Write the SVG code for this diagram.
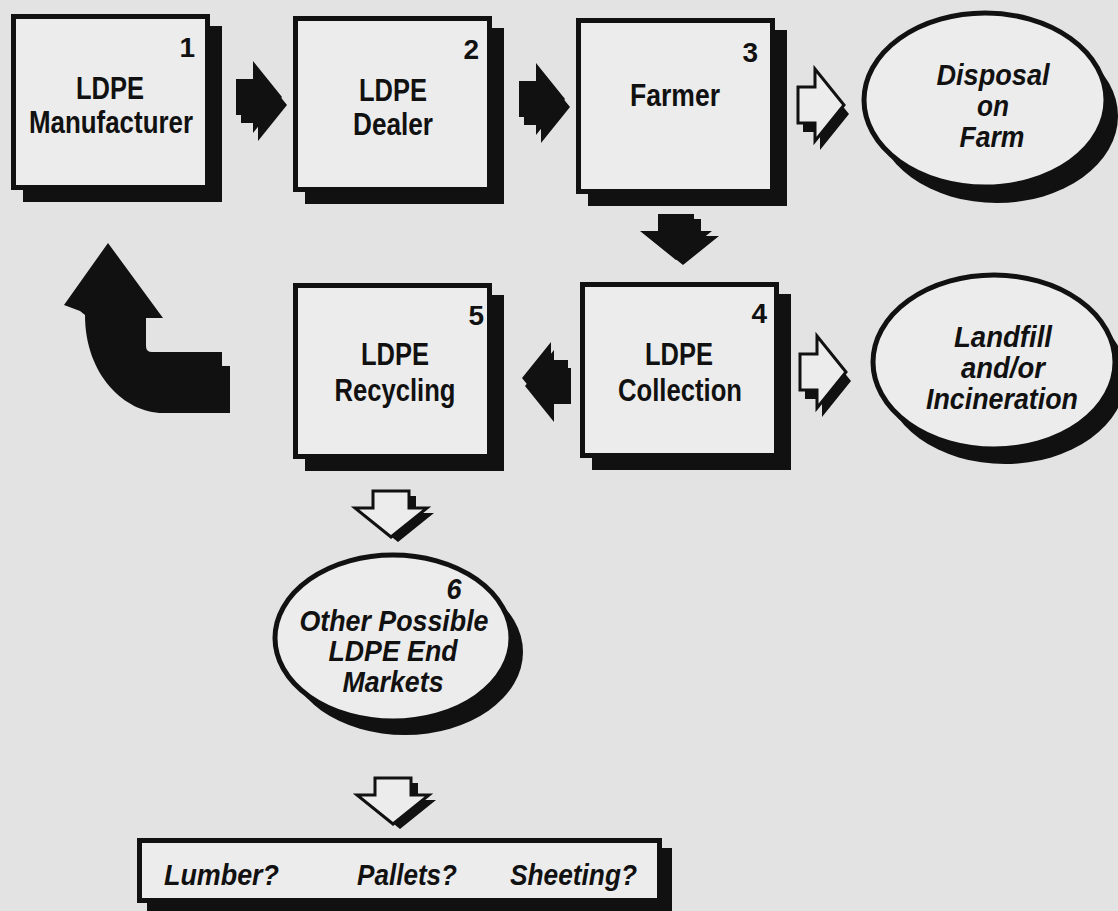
<svg xmlns="http://www.w3.org/2000/svg" xmlns:xlink="http://www.w3.org/1999/xlink" width="1118" height="911" viewBox="0 0 1118 911">
<style>
.bg{fill:#e3e3e3}
.box{fill:#ececec;stroke:#111;stroke-width:5}
.sh{fill:#111}
.ell{fill:#ececec;stroke:#111;stroke-width:5}
.t{font-family:"Liberation Sans",Arial,sans-serif;font-weight:bold;font-size:31px;fill:#111;text-anchor:middle}
.n{font-family:"Liberation Sans",Arial,sans-serif;font-weight:bold;font-size:28px;fill:#111;text-anchor:end}
.i{font-family:"Liberation Sans",Arial,sans-serif;font-weight:bold;font-style:italic;font-size:29px;fill:#111;text-anchor:middle}
.il{font-family:"Liberation Sans",Arial,sans-serif;font-weight:bold;font-style:italic;font-size:30px;fill:#111}
.ba{fill:#111}
.ha{fill:#ececec;stroke:#111;stroke-width:3;stroke-linejoin:miter}
</style>
<defs>
<path id="arr" d="M0,-18 H17 V-36 L46,0 L17,36 V18 H0 Z"/>
</defs>
<rect class="bg" x="0" y="0" width="1118" height="911"/>

<g id="connectors">
  <use xlink:href="#arr" class="ba" transform="translate(241,105)"/>
  <use xlink:href="#arr" class="ba" transform="translate(236,97)"/>
  <use xlink:href="#arr" class="ba" transform="translate(524,107)"/>
  <use xlink:href="#arr" class="ba" transform="translate(519,99)"/>
  <use xlink:href="#arr" class="ba" transform="translate(803,114)"/>
  <use xlink:href="#arr" class="ha" transform="translate(798,105)"/>
  <use xlink:href="#arr" class="ba" transform="translate(683,219) rotate(90)"/>
  <use xlink:href="#arr" class="ba" transform="translate(676,214) rotate(90)"/>
  <use xlink:href="#arr" class="ba" transform="translate(571,386) scale(-1,1)"/>
  <use xlink:href="#arr" class="ba" transform="translate(568,378) scale(-1,1)"/>
  <use xlink:href="#arr" class="ba" transform="translate(805,381)"/>
  <use xlink:href="#arr" class="ha" transform="translate(800,372)"/>
  <use xlink:href="#arr" class="ba" transform="translate(398,496) rotate(90)"/>
  <use xlink:href="#arr" class="ha" transform="translate(391,491) rotate(90)"/>
  <use xlink:href="#arr" class="ba" transform="translate(400,783) rotate(90)"/>
  <use xlink:href="#arr" class="ha" transform="translate(393,778) rotate(90)"/>
  <path class="ba" d="M108,243 L163,318 L146,318 L146,346 Q146,352 152,352 L222,352 L222,366 L230,366 L230,413 L163,413 C125,413 85,375 85,315 L80,311 L64,305 Z"/>
</g>

<g id="node1">
  <rect class="sh" x="23" y="26" width="199" height="176"/>
  <rect class="box" x="13.5" y="16.5" width="194" height="171"/>
  <text class="n" x="195" y="57">1</text>
  <text class="t" x="110" y="99" textLength="68" lengthAdjust="spacingAndGlyphs">LDPE</text>
  <text class="t" x="111" y="133" textLength="164" lengthAdjust="spacingAndGlyphs">Manufacturer</text>
</g>

<g id="node2">
  <rect class="sh" x="305" y="28" width="199" height="176"/>
  <rect class="box" x="295.5" y="18.5" width="194" height="171"/>
  <text class="n" x="479" y="59">2</text>
  <text class="t" x="393" y="101" textLength="68" lengthAdjust="spacingAndGlyphs">LDPE</text>
  <text class="t" x="393" y="135" textLength="80" lengthAdjust="spacingAndGlyphs">Dealer</text>
</g>

<g id="node3">
  <rect class="sh" x="588" y="30" width="199" height="176"/>
  <rect class="box" x="578.5" y="20.5" width="194" height="171"/>
  <text class="n" x="758" y="62">3</text>
  <text class="t" x="675" y="106" textLength="90" lengthAdjust="spacingAndGlyphs">Farmer</text>
</g>

<g id="disposal">
  <ellipse class="sh" cx="997" cy="116" rx="121" ry="87"/>
  <ellipse class="ell" cx="985" cy="100" rx="121" ry="87"/>
  <text class="i" x="993" y="85" textLength="113" lengthAdjust="spacingAndGlyphs">Disposal</text>
  <text class="i" x="993" y="116" textLength="32" lengthAdjust="spacingAndGlyphs">on</text>
  <text class="i" x="992" y="147" textLength="65" lengthAdjust="spacingAndGlyphs">Farm</text>
</g>

<g id="node4">
  <rect class="sh" x="592" y="294" width="199" height="176"/>
  <rect class="box" x="582.5" y="284.5" width="194" height="171"/>
  <text class="n" x="767" y="323">4</text>
  <text class="t" x="679" y="365" textLength="68" lengthAdjust="spacingAndGlyphs">LDPE</text>
  <text class="t" x="680" y="401" textLength="124" lengthAdjust="spacingAndGlyphs">Collection</text>
</g>

<g id="node5">
  <rect class="sh" x="305" y="295" width="199" height="176"/>
  <rect class="box" x="295.5" y="285.5" width="194" height="171"/>
  <text class="n" x="484" y="325">5</text>
  <text class="t" x="395" y="365" textLength="68" lengthAdjust="spacingAndGlyphs">LDPE</text>
  <text class="t" x="395" y="401" textLength="121" lengthAdjust="spacingAndGlyphs">Recycling</text>
</g>

<g id="landfill">
  <ellipse class="sh" cx="1005" cy="377" rx="121" ry="87"/>
  <ellipse class="ell" cx="994" cy="362" rx="121" ry="87"/>
  <text class="i" x="1003" y="347" textLength="98" lengthAdjust="spacingAndGlyphs">Landfill</text>
  <text class="i" x="1003" y="378" textLength="84" lengthAdjust="spacingAndGlyphs">and/or</text>
  <text class="i" x="1002" y="409" textLength="152" lengthAdjust="spacingAndGlyphs">Incineration</text>
</g>

<g id="node6">
  <ellipse class="sh" cx="405" cy="652" rx="118" ry="83"/>
  <ellipse class="ell" cx="393" cy="638" rx="118" ry="83"/>
  <text class="i" x="454" y="599" textLength="15" lengthAdjust="spacingAndGlyphs">6</text>
  <text class="i" x="394" y="631" textLength="189" lengthAdjust="spacingAndGlyphs">Other Possible</text>
  <text class="i" x="393" y="661" textLength="129" lengthAdjust="spacingAndGlyphs">LDPE End</text>
  <text class="i" x="393" y="692" textLength="101" lengthAdjust="spacingAndGlyphs">Markets</text>
</g>

<g id="endUses">
  <rect class="sh" x="147" y="848" width="525" height="65"/>
  <rect class="box" x="139.5" y="840.5" width="520" height="60"/>
  <text class="il" x="164" y="885" textLength="115" lengthAdjust="spacingAndGlyphs">Lumber?</text>
  <text class="il" x="357" y="885" textLength="100" lengthAdjust="spacingAndGlyphs">Pallets?</text>
  <text class="il" x="510" y="885" textLength="127" lengthAdjust="spacingAndGlyphs">Sheeting?</text>
</g>
</svg>
